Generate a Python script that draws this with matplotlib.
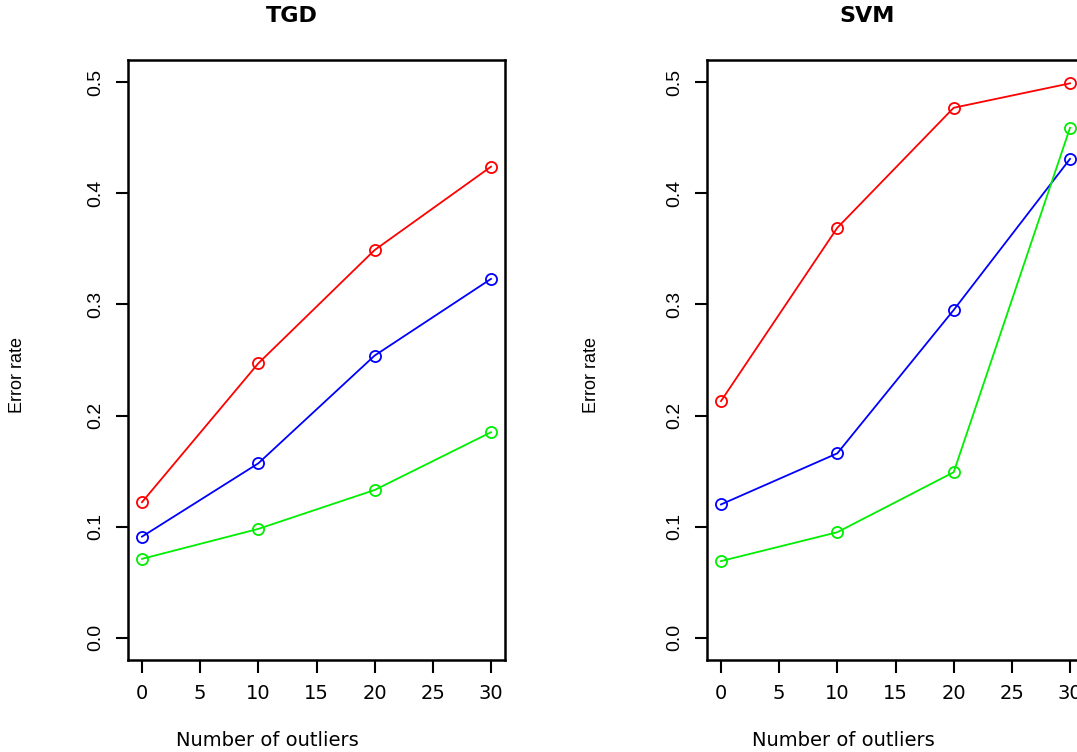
import matplotlib
matplotlib.use("Agg")
import matplotlib.pyplot as plt

outliers = [0, 10, 20, 30]

tgd_red = [0.122, 0.247, 0.349, 0.424]
tgd_blue = [0.091, 0.157, 0.254, 0.323]
tgd_green = [0.071, 0.098, 0.133, 0.185]

svm_red = [0.213, 0.369, 0.477, 0.499]
svm_blue = [0.120, 0.166, 0.295, 0.431]
svm_green = [0.069, 0.095, 0.149, 0.459]

titles = ["TGD", "SVM"]
xticks = [0, 5, 10, 15, 20, 25, 30]
yticks = [0.0, 0.1, 0.2, 0.3, 0.4, 0.5]

plt.rcParams['font.family'] = ['DejaVu Sans']
narrow = ['Liberation Sans Narrow', 'Liberation Sans', 'DejaVu Sans']

W, H = 1077, 752
fig = plt.figure(figsize=(W / 100, H / 100), dpi=100)

# axes boxes in pixels (left, top, right, bottom); the right one runs off the page
boxes = [(128, 60, 505, 660), (707, 60, 1084, 660)]
title_x = [292, 867]
ylab_x = [17, 592]
xlab_x = [267, 843]
panels = [(tgd_red, tgd_blue, tgd_green), (svm_red, svm_blue, svm_green)]

for i in range(2):
    l, t, r, b = boxes[i]
    ax = fig.add_axes([l / W, 1 - b / H, (r - l) / W, (b - t) / H])
    red, blue, green = panels[i]
    for vals, col in [(red, '#ff0000'), (blue, '#0000ff'), (green, '#00ee00')]:
        ax.plot(outliers, vals, color=col, lw=1.3, marker='o', ms=8,
                mfc='none', mec=col, mew=1.3, clip_on=False)
    ax.set_xlim(-1.2, 31.2)
    ax.set_ylim(-0.02, 0.52)
    ax.set_xticks(xticks)
    ax.set_xticklabels([str(v) for v in xticks], fontsize=14)
    ax.set_yticks(yticks)
    ax.set_yticklabels(["%.1f" % v for v in yticks], fontsize=14, rotation=90,
                       va='center', family=narrow)
    ax.tick_params(direction='out', length=9, width=1.5, pad=8)
    for s in ax.spines.values():
        s.set_linewidth(1.8)
    fig.text(title_x[i] / W, 1 - 16 / H, titles[i], ha='center', va='center',
             fontsize=16, fontweight='bold')
    fig.text(ylab_x[i] / W, 1 - 375 / H, "Error rate", ha='center', va='center',
             rotation=90, fontsize=13, family=narrow)
    fig.text(xlab_x[i] / W, 1 - 740 / H, "Number of outliers", ha='center',
             va='center', fontsize=14)

fig.savefig("out.png", dpi=100)
